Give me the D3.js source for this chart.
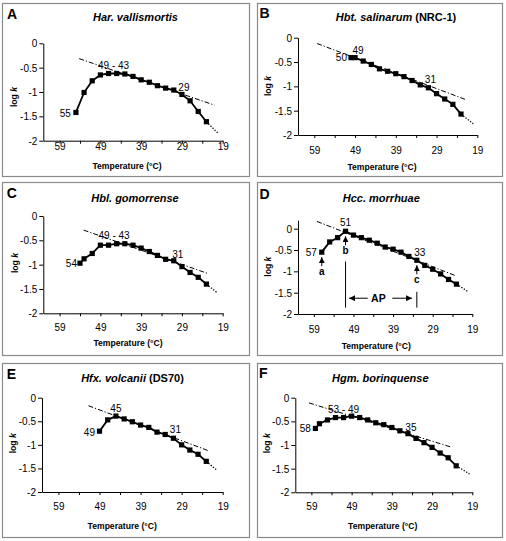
<!DOCTYPE html>
<html><head><meta charset="utf-8">
<script src="https://cdn.jsdelivr.net/npm/d3@7"></script>
<style>
body{margin:0;background:#fff}
svg{display:block}
text{font-family:"Liberation Sans",Arial,Helvetica,sans-serif;fill:#000}
</style>
</head><body>
<svg id="chart" width="506" height="541"></svg>
<script>
// ---------- DATA ----------
const xTickLabels = [59, 49, 39, 29, 19];
const xTicks = [59, 54, 49, 44, 39, 34, 29, 24, 19];
const yTickLabels = [0, -0.5, -1, -1.5, -2];
const xTitle = "Temperature (°C)";

const panelLetters = ["A", "B", "C", "D", "E", "F"];
const titleItalic = ["Har. vallismortis", "Hbt. salinarum", "Hbl. gomorrense", "Hcc. morrhuae", "Hfx. volcanii", "Hgm. borinquense"];
const titlePlain = ["", " (NRC-1)", "", "", " (DS70)", ""];

const tempA = [55, 53, 51, 49, 47, 45, 43, 41, 39, 37, 35, 33, 31, 29, 27, 25, 23];
const logkA = [-1.42, -1.01, -0.77, -0.65, -0.62, -0.62, -0.63, -0.68, -0.75, -0.80, -0.87, -0.92, -0.96, -1.05, -1.18, -1.40, -1.61];
const fitA = [[54.2, -0.315], [21, -1.27]];
const extA = [20.1, -1.85];
const labelsA = [["55", 55, -1.42], ["49 - 43", 46, -0.62], ["29", 29, -1.05]];

const tempB = [50, 49, 47, 45, 43, 41, 39, 37, 35, 33, 31, 29, 27, 25, 23];
const logkB = [-0.41, -0.41, -0.48, -0.55, -0.64, -0.69, -0.74, -0.80, -0.88, -0.97, -1.03, -1.15, -1.26, -1.37, -1.57];
const fitB = [[58.3, -0.12], [21.9, -1.27]];
const extB = [20, -1.77];
const labelsB = [["50", 50, -0.41], ["49", 49, -0.41], ["31", 31, -1.03]];

const tempC = [54, 53, 51, 49, 47, 45, 43, 41, 39, 37, 35, 33, 31, 29, 27, 25, 23];
const logkC = [-0.97, -0.88, -0.77, -0.60, -0.60, -0.57, -0.57, -0.60, -0.66, -0.73, -0.81, -0.89, -0.92, -1.04, -1.16, -1.26, -1.40];
const fitC = [[53.1, -0.29], [22.7, -1.18]];
const extC = [20.3, -1.58];
const labelsC = [["54", 54, -0.97], ["49 - 43", 46, -0.57], ["31", 31, -0.92]];

const tempD = [57, 55, 53, 51, 49, 47, 45, 43, 41, 39, 37, 35, 33, 31, 29, 27, 25, 23];
const logkD = [-0.55, -0.31, -0.21, -0.06, -0.15, -0.21, -0.27, -0.34, -0.43, -0.48, -0.55, -0.65, -0.74, -0.86, -0.95, -1.06, -1.19, -1.30];
const fitD = [[58.2, 0.17], [23.0, -1.11]];
const extD = [20, -1.48];
const labelsD = [["57", 57, -0.55], ["51", 51, -0.06], ["33", 33, -0.74]];
// D annotations
const arrowLetters = ["a", "b", "c"];
const arrowTemps = [57, 51, 33];
const apLineTemps = [51, 33];
const apLineTops = [-0.77, -1.48];
const apLineBottom = -1.85;
const apLevel = -1.63;
const apArrowLeft = [45.4, 50.1];   // tail, head
const apArrowRight = [39.2, 34.2];  // tail, head
const apText = ["AP", 42.7];

const tempE = [49, 47, 45, 43, 41, 39, 37, 35, 33, 31, 29, 27, 25, 23];
const logkE = [-0.71, -0.47, -0.39, -0.45, -0.51, -0.58, -0.63, -0.73, -0.78, -0.86, -1.00, -1.11, -1.20, -1.35];
const fitE = [[51.7, -0.17], [22.3, -1.13]];
const extE = [20.5, -1.53];
const labelsE = [["49", 49, -0.71], ["45", 45, -0.39], ["31", 31, -0.86]];

const tempF = [58, 57, 55, 53, 51, 49, 47, 45, 43, 41, 39, 37, 35, 33, 31, 29, 27, 25, 23];
const logkF = [-0.65, -0.55, -0.47, -0.42, -0.42, -0.39, -0.42, -0.47, -0.53, -0.57, -0.63, -0.70, -0.76, -0.86, -0.95, -1.05, -1.17, -1.27, -1.44];
const fitF = [[59.6, -0.11], [24.4, -1.04]];
const extF = [19.7, -1.61];
const labelsF = [["58", 58, -0.65], ["53 - 49", 51, -0.42], ["35", 35, -0.76]];

const series = [
  [tempA, logkA, fitA, extA, labelsA],
  [tempB, logkB, fitB, extB, labelsB],
  [tempC, logkC, fitC, extC, labelsC],
  [tempD, logkD, fitD, extD, labelsD],
  [tempE, logkE, fitE, extE, labelsE],
  [tempF, logkF, fitF, extF, labelsF]
];

// ---------- LAYOUT ----------
const layout = [
  {box:[2,3,247,173], left:43.3, right:222.7, y0:43.3, y2:140.7, ymax:0, letter:[7,18.5], title:[135.5,21], tickOff:6, xlab:[127,168.5], ylab:[14,97],
   lab:[["end",-5,4.5],["middle",1,-4.5],["middle",2,-3.5]]},
  {box:[257,3,245,173], left:298, right:477.3, y0:37.7, y2:135, ymax:0, letter:[259.5,17.7], title:[396,21], tickOff:15, xlab:[382,169.5], ylab:[268,86],
   lab:[["end",-4,3.5],["middle",3,-3.5],["middle",2,-4.5]]},
  {box:[2,182,247,173], left:43.3, right:222.7, y0:216, y2:313.3, ymax:0, letter:[6.7,197.5], title:[135,201.7], tickOff:14.4, xlab:[128,346.3], ylab:[15,263],
   lab:[["end",-3,4],["middle",1.5,-4.7],["middle",4,-3]]},
  {box:[257,182,245,173], left:298, right:472.3, y0:228.7, y2:314, ymax:0.2, letter:[259.5,198.5], title:[381.3,201.7], tickOff:15.5, xlab:[376.3,348.5], ylab:[268,266.7],
   lab:[["end",-5,3.5],["middle",0,-5],["middle",3,-4]]},
  {box:[2,363,247,174], left:42, right:222.7, y0:397.7, y2:492, ymax:0, letter:[6.7,378.5], title:[132.5,381.7], tickOff:14.7, xlab:[122.2,528.5], ylab:[12.7,443.3],
   lab:[["end",-4.5,5],["middle",0,-4],["middle",2,-5]]},
  {box:[257,363,245,174], left:295.3, right:472.3, y0:397.7, y2:492.3, ymax:0, letter:[259,377.5], title:[380.3,381.7], tickOff:14.4, xlab:[382.7,528.5], ylab:[267.3,443.3],
   lab:[["end",-4.5,4],["middle",0,-4.6],["middle",3,-3]]}
];

// ---------- DRAW ----------
const svg = d3.select("#chart");
svg.append("rect").attr("width",506).attr("height",541).attr("fill","#fff");

const defs = svg.append("defs");
defs.append("marker").attr("id","ah").attr("viewBox","0 0 10 10").attr("refX",10).attr("refY",5)
  .attr("markerWidth",6).attr("markerHeight",6).attr("markerUnits","userSpaceOnUse").attr("orient","auto")
  .append("path").attr("d","M0,0L10,5L0,10Z").attr("fill","#000");

series.forEach((s, i) => {
  const [temps, logk, fit, ext, labels] = s;
  const L = layout[i];
  const g = svg.append("g");
  g.append("rect").attr("x",L.box[0]+0.5).attr("y",L.box[1]+0.5).attr("width",L.box[2]).attr("height",L.box[3])
    .attr("fill","none").attr("stroke","#8a8a8a").attr("stroke-width",1.2);

  const unit = (L.y2 - L.y0) / 2;
  const x = d3.scaleLinear().domain([63, 19]).range([L.left, L.right]);
  const y = d3.scaleLinear().domain([-2, L.ymax]).range([L.y2, L.y0 - L.ymax * unit]);

  // axes
  const ya = g.append("g").attr("transform",`translate(${L.left},0)`)
    .call(d3.axisLeft(y).tickValues(yTickLabels).tickSize(4).tickSizeOuter(0).tickPadding(2).tickFormat(d => String(d)));
  const xa = g.append("g").attr("transform",`translate(0,${L.y2})`)
    .call(d3.axisBottom(x).tickValues(xTicks).tickSize(3).tickSizeOuter(0)
      .tickFormat(d => xTickLabels.includes(d) ? String(d) : ""));
  [ya, xa].forEach(a => {
    a.select(".domain").attr("stroke","#000").attr("stroke-width",1);
    a.selectAll(".tick line").attr("stroke","#000").attr("stroke-width",1);
    a.selectAll("text").attr("font-size","10px").attr("font-family",null).attr("fill","#000");
  });
  xa.selectAll("text").attr("y", L.tickOff + 3.6).attr("dy", null);
  ya.selectAll("text").attr("dy","0.35em");

  // fitted Arrhenius line (dash-dot)
  g.append("path").datum(fit).attr("d", d3.line().x(d => x(d[0])).y(d => y(d[1])))
    .attr("fill","none").attr("stroke","#000").attr("stroke-width",1).attr("stroke-dasharray","5,2,1.2,2");

  // dotted extension from last point
  const last = temps.length - 1;
  g.append("path").datum([[temps[last], logk[last]], ext]).attr("d", d3.line().x(d => x(d[0])).y(d => y(d[1])))
    .attr("fill","none").attr("stroke","#000").attr("stroke-width",1.3).attr("stroke-dasharray","1.3,1.6");

  // data line
  const pts = temps.map((t, k) => [t, logk[k]]);
  g.append("path").datum(pts).attr("d", d3.line().x(d => x(d[0])).y(d => y(d[1])))
    .attr("fill","none").attr("stroke","#000").attr("stroke-width",1.8).attr("stroke-linejoin","round");
  g.selectAll("rect.pt").data(pts).enter().append("rect").attr("class","pt")
    .attr("x", d => x(d[0]) - 2.6).attr("y", d => y(d[1]) - 2.6).attr("width",5.2).attr("height",5.2).attr("fill","#000");

  // point labels
  labels.forEach((lb, k) => {
    const [anchor, dx, dy] = L.lab[k];
    g.append("text").attr("x", x(lb[1]) + dx).attr("y", y(lb[2]) + dy).attr("text-anchor", anchor)
      .attr("font-size","10px").text(lb[0]);
  });

  // titles & letters
  g.append("text").attr("x", L.letter[0]).attr("y", L.letter[1]).attr("font-size","14px").attr("font-weight","bold").text(panelLetters[i]);
  const tt = g.append("text").attr("x", L.title[0]).attr("y", L.title[1]).attr("text-anchor","middle")
    .attr("font-size","11px").attr("font-weight","bold");
  tt.append("tspan").attr("font-style","italic").text(titleItalic[i]);
  if (titlePlain[i]) tt.append("tspan").text(titlePlain[i]);

  g.append("text").attr("x", L.xlab[0]).attr("y", L.xlab[1]).attr("text-anchor","middle")
    .attr("font-size","8.6px").attr("font-weight","bold").text(xTitle);
  const yl = g.append("text").attr("transform",`translate(${L.ylab[0] + 3},${L.ylab[1]}) rotate(-90)`)
    .attr("text-anchor","middle").attr("font-size","8.6px").attr("font-weight","bold");
  yl.append("tspan").text("log ");
  yl.append("tspan").attr("font-style","italic").text("k");

  // panel D annotations
  if (i === 3) {
    arrowTemps.forEach((t, k) => {
      const py = y(logk[temps.indexOf(t)]);
      g.append("line").attr("x1", x(t)).attr("x2", x(t)).attr("y1", py + 14).attr("y2", py + 5)
        .attr("stroke","#000").attr("stroke-width",1).attr("marker-end","url(#ah)");
      g.append("text").attr("x", x(t)).attr("y", py + 23).attr("text-anchor","middle")
        .attr("font-size","10px").attr("font-weight","bold").text(arrowLetters[k]);
    });
    apLineTemps.forEach((t, k) => {
      g.append("line").attr("x1", x(t)).attr("x2", x(t)).attr("y1", y(apLineTops[k])).attr("y2", y(apLineBottom))
        .attr("stroke","#000").attr("stroke-width",1);
    });
    [apArrowLeft, apArrowRight].forEach(a => {
      g.append("line").attr("x1", x(a[0])).attr("x2", x(a[1])).attr("y1", y(apLevel)).attr("y2", y(apLevel))
        .attr("stroke","#000").attr("stroke-width",1).attr("marker-end","url(#ah)");
    });
    g.append("text").attr("x", x(apText[1])).attr("y", y(apLevel) + 4).attr("text-anchor","middle")
      .attr("font-size","10.5px").attr("font-weight","bold").text(apText[0]);
  }
});
</script>
</body></html>
